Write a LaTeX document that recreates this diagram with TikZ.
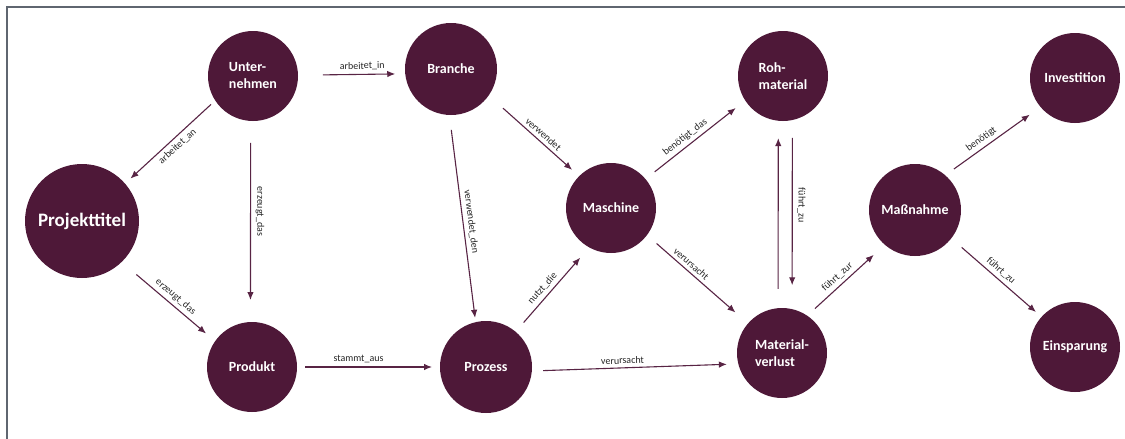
\documentclass[tikz,border=0pt]{standalone}
\usepackage{fontspec}
\setmainfont{Carlito}
\usetikzlibrary{arrows.meta}
\definecolor{plum}{RGB}{78,24,56}
\definecolor{edgeplum}{RGB}{88,36,68}
\definecolor{framegray}{RGB}{95,102,112}

\begin{document}
\begin{tikzpicture}[x=1pt,y=1pt,
  concept/.style={circle, fill=plum, draw=none, outer sep=0pt, inner sep=0pt,
    minimum size=90pt, text=white, align=left,
    font=\fontsize{14}{17}\selectfont\bfseries},
  rel/.style={draw=edgeplum, line width=1.1pt, -{Latex[length=8pt,width=6.5pt]}},
  lbl/.style={font=\fontsize{10}{12}\selectfont, text=black!85, sloped, inner sep=3.5pt},
  lblv/.style={font=\fontsize{10}{12}\selectfont, text=black!85, rotate=-90, inner sep=4.5pt},
]
\useasboundingbox (0,0) rectangle (1125,-439);
\draw[framegray, line width=1.5pt] (7,-439) -- (7,-7) -- (1125,-7);

% concepts
\node[concept] (unt) at (253,-76) {Unter-\\nehmen};
\node[concept, minimum size=114pt, font=\fontsize{19}{22}\selectfont\bfseries] (proj) at (82,-221) {Projekttitel};
\node[concept] (prod) at (252,-367) {Produkt};
\node[concept, minimum size=92pt] (bra) at (451,-69) {Branche};
\node[concept, minimum size=92pt] (proz) at (486,-367) {Prozess};
\node[concept] (masch) at (611,-208) {Maschine};
\node[concept] (roh) at (783,-76) {Roh-\\material};
\node[concept] (mv) at (782,-353) {Material-\\verlust};
\node[concept, minimum size=92pt] (mass) at (915,-210) {Maßnahme};
\node[concept] (inv) at (1075,-78) {Investition};
\node[concept] (ein) at (1075,-347) {Einsparung};

% relations
\draw[rel, shorten <=5.8pt, shorten >=7.4pt] (unt.-147.9) -- node[lbl, below, pos=.48] {arbeitet\_an} (proj.41.9);
\draw[rel, shorten <=22pt, shorten >=22pt] (unt.-93.4) -- node[lblv, above, pos=.45] {erzeugt\_das} (prod.92.6);
\draw[rel, shorten <=19.4pt, shorten >=11.9pt] (proj.-46.1) -- node[lbl, above, pos=.52] {erzeugt\_das} (prod.145.8);
\draw[rel, shorten <=8pt, shorten >=8pt] (prod.0) -- node[lbl, above, pos=.43] {stammt\_aus} (proz.180);
\draw[rel, shorten <=25pt, shorten >=10pt] (unt.1.6) -- node[lbl, above, pos=.6] {arbeitet\_in} (bra.-174.9);
\draw[rel, shorten <=15pt, shorten >=4.4pt] (bra.-92.8) -- node[lbl, above, pos=.52] {verwendet\_den} (proz.103.8);
\draw[rel, shorten <=19.2pt, shorten >=9.5pt] (bra.-35.6) -- node[lbl, above, pos=.55] {verwendet} (masch.135.7);
\draw[rel, shorten <=11.7pt, shorten >=12.1pt] (masch.40.7) -- node[lbl, above, pos=.45] {benötigt\_das} (roh.-147.1);
\draw[rel, shorten <=12.3pt, shorten >=13.7pt] (proz.50.6) -- node[lbl, above, pos=.45] {nutzt\_die} (masch.-119.6);
\draw[rel, shorten <=12.8pt, shorten >=16.7pt] (masch.-37.3) -- node[lbl, above, pos=.39] {verursacht} (mv.139.6);
\draw[rel, shorten <=11.2pt, shorten >=11.5pt] (proz.-5) -- node[lbl, above, pos=.44] {verursacht} (mv.-166.7);
\draw[rel, shorten <=19.4pt, shorten >=17.4pt] (mv.95.1) -- (roh.-96.4);
\draw[rel, shorten <=17.9pt, shorten >=23.9pt] (roh.-78.5) -- node[lblv, above, pos=.45] {führt\_zu} (mv.77.2);
\draw[rel, shorten <=10.5pt, shorten >=15pt] (mv.56) -- node[lbl, above, pos=.46] {führt\_zur} (mass.-131);
\draw[rel, shorten <=10.7pt, shorten >=13.3pt] (mass.49.3) -- node[lbl, above, pos=.43] {benötigt} (inv.-140.6);
\draw[rel, shorten <=13.8pt, shorten >=7.4pt] (mass.-38.2) -- node[lbl, above, pos=.49] {führt\_zu} (ein.138.1);
\end{tikzpicture}
\end{document}
